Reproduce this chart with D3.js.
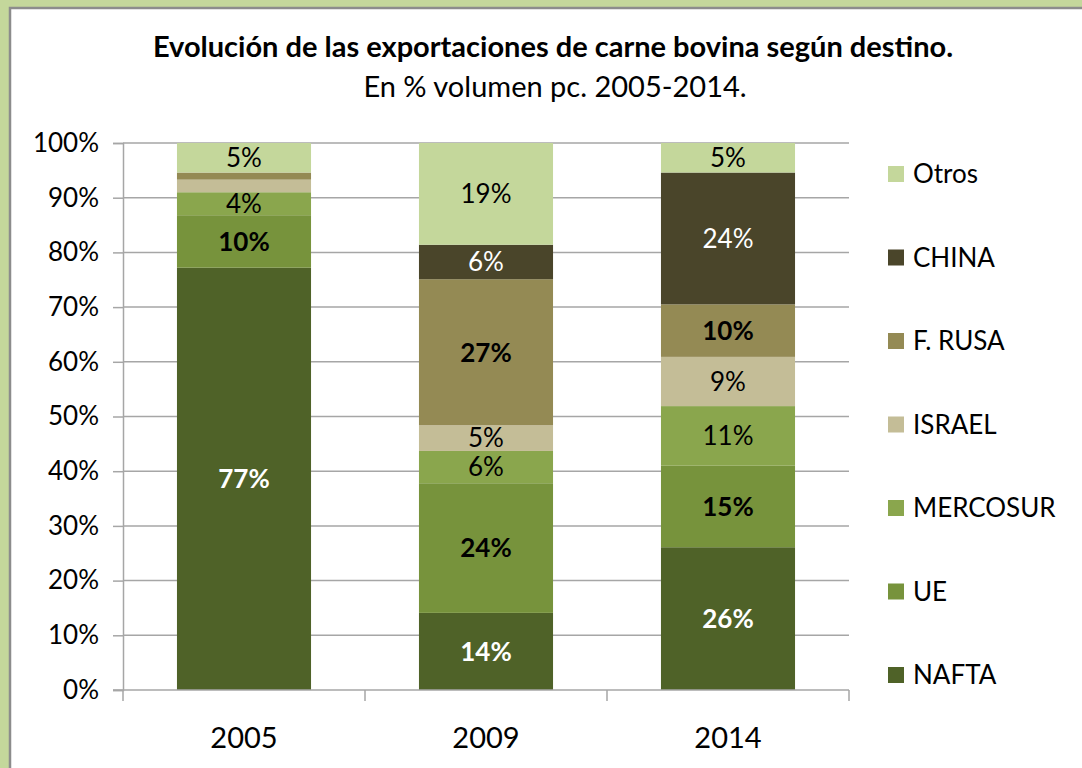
<!DOCTYPE html>
<html>
<head>
<meta charset="utf-8">
<script src="https://cdn.jsdelivr.net/npm/d3@7"></script>
<style>
  html, body { margin: 0; padding: 0; background: #c4d79b; }
  svg { display: block; font-family: Lato, "Open Sans", sans-serif; }
</style>
</head>
<body>
<svg id="chart" width="1082" height="768"></svg>
<script>
const years = ["2005", "2009", "2014"];
const destinos = ["NAFTA", "UE", "MERCOSUR", "ISRAEL", "F. RUSA", "CHINA", "Otros"];
// % volumen por destino, en el orden de "destinos"
const valores2005 = [77.2, 9.6, 4.2, 2.3, 1.3, 0, 5.4];
const valores2009 = [14.1, 23.7, 5.9, 4.7, 26.7, 6.3, 18.6];
const valores2014 = [26.1, 14.9, 10.9, 9.0, 9.6, 24.1, 5.4];
const yTicks = [0, 10, 20, 30, 40, 50, 60, 70, 80, 90, 100];

const colors = {
  "NAFTA": "#4f6228",
  "UE": "#77933c",
  "MERCOSUR": "#8aa64d",
  "ISRAEL": "#c4bd97",
  "F. RUSA": "#948a54",
  "CHINA": "#4a452a",
  "Otros": "#c4d79b"
};
const whiteLabel = new Set(["NAFTA", "CHINA"]);
const boldLabel = new Set(["NAFTA", "UE", "F. RUSA"]);

const rows = [valores2005, valores2009, valores2014].map((vals, i) => {
  const r = { year: years[i] };
  destinos.forEach((d, j) => (r[d] = vals[j]));
  return r;
});

const svg = d3.select("#chart");

// white panel with grey border
svg.append("rect")
  .attr("x", 10).attr("y", 8)
  .attr("width", 1100).attr("height", 800)
  .attr("fill", "#fff")
  .attr("stroke", "#8c8c8c")
  .attr("stroke-width", 2.5);

svg.append("text")
  .attr("x", 553).attr("y", 57)
  .attr("text-anchor", "middle")
  .attr("font-weight", "bold")
  .attr("font-size", 29)
  .attr("fill", "#000")
  .text("Evolución de las exportaciones de carne bovina según destino.");

svg.append("text")
  .attr("x", 555).attr("y", 97)
  .attr("text-anchor", "middle")
  .attr("font-size", 29)
  .attr("fill", "#000")
  .text("En % volumen pc. 2005-2014.");

const x = d3.scaleBand()
  .domain(years)
  .range([123, 849])
  .paddingInner(0.446)
  .paddingOuter(0.223);
const xCat = d3.scaleBand().domain(years).range([123, 849]);
const y = d3.scaleLinear().domain([0, 100]).range([690, 143]);

const grid = "#a6a6a6";

// gridlines
svg.append("g")
  .selectAll("line")
  .data(yTicks.slice(1))
  .join("line")
  .attr("x1", 123).attr("x2", 849)
  .attr("y1", d => y(d)).attr("y2", d => y(d))
  .attr("stroke", grid).attr("stroke-width", 1.5);

// y axis
const yAxis = svg.append("g")
  .attr("transform", "translate(123,0)")
  .call(d3.axisLeft(y).tickValues(yTicks).tickSize(10).tickPadding(14).tickFormat(d => d + "%"));
yAxis.select(".domain").attr("stroke", grid).attr("stroke-width", 1.5);
yAxis.selectAll(".tick line").attr("stroke", grid).attr("stroke-width", 1.5);
yAxis.selectAll("text").attr("font-size", 26).attr("fill", "#000")
  .attr("font-family", "Lato, sans-serif");

const stack = d3.stack().keys(destinos);
const series = stack(rows);

const layer = svg.append("g")
  .selectAll("g")
  .data(series)
  .join("g")
  .attr("fill", s => colors[s.key]);

layer.selectAll("rect")
  .data(s => s.map(p => ({ key: s.key, p })))
  .join("rect")
  .attr("x", d => x(d.p.data.year))
  .attr("width", x.bandwidth())
  .attr("y", d => y(d.p[1]))
  .attr("height", d => y(d.p[0]) - y(d.p[1]));

// data labels
layer.selectAll("text")
  .data(s => s.map(p => ({ key: s.key, p })).filter(d => d.p[1] - d.p[0] >= 3))
  .join("text")
  .attr("x", d => x(d.p.data.year) + x.bandwidth() / 2)
  .attr("y", d => y((d.p[0] + d.p[1]) / 2))
  .attr("dy", "0.36em")
  .attr("text-anchor", "middle")
  .attr("font-size", 26)
  .attr("font-weight", d => (boldLabel.has(d.key) ? "bold" : "normal"))
  .attr("fill", d => (whiteLabel.has(d.key) ? "#fff" : "#000"))
  .text(d => Math.round(d.p[1] - d.p[0]) + "%");

// x axis
const xAxis = svg.append("g").attr("transform", "translate(0,690)");
xAxis.append("line")
  .attr("x1", 113).attr("x2", 849)
  .attr("stroke", grid).attr("stroke-width", 1.5);
xAxis.selectAll("line.tick")
  .data([...years.map(d => xCat(d)), 849])
  .join("line")
  .attr("class", "tick")
  .attr("x1", d => d).attr("x2", d => d)
  .attr("y1", 0).attr("y2", 11)
  .attr("stroke", grid).attr("stroke-width", 1.5);
xAxis.selectAll("text")
  .data(years)
  .join("text")
  .attr("x", d => xCat(d) + xCat.bandwidth() / 2)
  .attr("y", 58)
  .attr("text-anchor", "middle")
  .attr("font-size", 29)
  .attr("fill", "#000")
  .text(d => d);

// legend
const legendItems = destinos.slice().reverse();
const ly = d3.scalePoint().domain(legendItems).range([174, 675]);
const legend = svg.append("g")
  .selectAll("g")
  .data(legendItems)
  .join("g")
  .attr("transform", d => `translate(888,${ly(d)})`);
legend.append("rect")
  .attr("x", 0).attr("y", -8)
  .attr("width", 16).attr("height", 16)
  .attr("fill", d => colors[d]);
legend.append("text")
  .attr("x", 25).attr("y", 0)
  .attr("dy", "0.36em")
  .attr("font-size", 26)
  .attr("fill", "#000")
  .text(d => d);
</script>
</body>
</html>
